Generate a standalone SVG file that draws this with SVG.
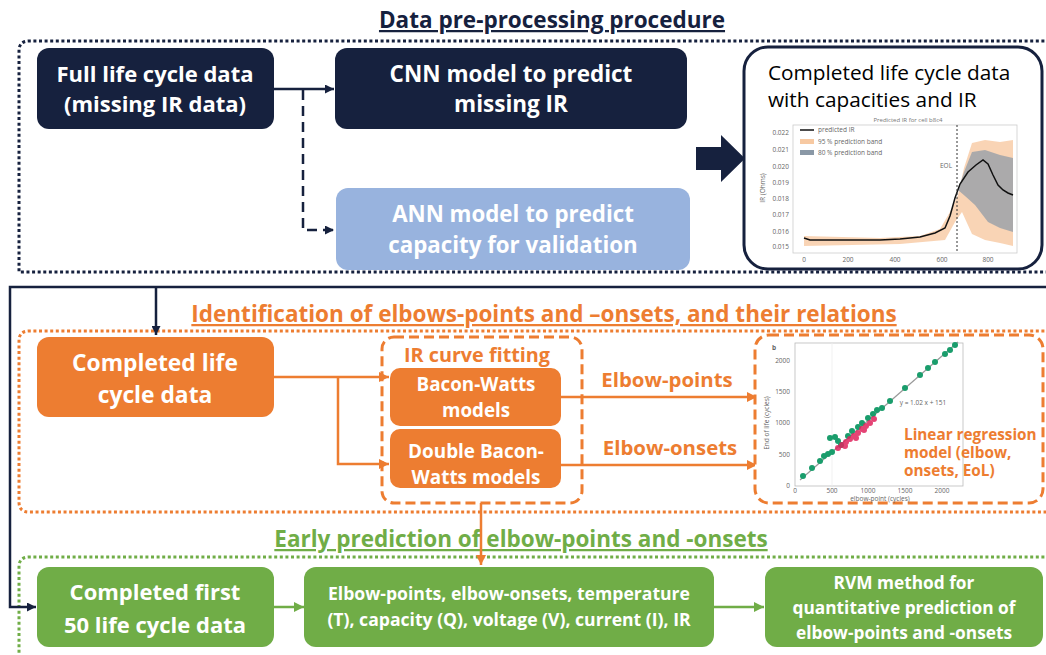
<svg xmlns="http://www.w3.org/2000/svg" width="1046" height="655" viewBox="0 0 1046 655">
<defs>
<style>
text{font-family:"Open Sans",Lato,"Liberation Sans",sans-serif}
.wb{fill:#fff;font-weight:bold;text-anchor:middle}
.hd{font-weight:bold;font-size:22.5px;text-anchor:middle;text-decoration:underline}
.ol{fill:#ed7d31;font-weight:bold;text-anchor:middle}
.navy{fill:#16213e}
.org{fill:#ed7d31}
.grn{fill:#70ad47}
.tk{font-size:6.5px;fill:#666}
.cn{fill:none;stroke-width:2.5}
.dotb{fill:none;stroke-width:3;stroke-dasharray:3 2.6}
</style>
<marker id="an" viewBox="0 0 10 10" refX="10" refY="5" markerWidth="9" markerHeight="9" markerUnits="userSpaceOnUse" orient="auto"><path d="M0,0 L10,5 L0,10 z" fill="#16213e"/></marker>
<marker id="ao" viewBox="0 0 10 10" refX="10" refY="5" markerWidth="10" markerHeight="10" markerUnits="userSpaceOnUse" orient="auto"><path d="M0,0 L10,5 L0,10 z" fill="#ed7d31"/></marker>
<marker id="ag" viewBox="0 0 10 10" refX="10" refY="5" markerWidth="10" markerHeight="10" markerUnits="userSpaceOnUse" orient="auto"><path d="M0,0 L10,5 L0,10 z" fill="#70ad47"/></marker>
</defs>
<rect width="1046" height="655" fill="#fff"/>

<g id="sections">
<path d="M1050,41 H29 Q19,41 19,51 V272 H1050" class="dotb" stroke="#16213e"/>
<text x="552" y="28" class="hd" fill="#16213e">Data pre-processing procedure</text>
<path d="M1050,331 H29 Q19,331 19,341 V502 Q19,512 29,512 H1050" class="dotb" stroke="#ed7d31"/>
<text x="544" y="322" class="hd" fill="#ed7d31">Identification of elbows-points and –onsets, and their relations</text>
<path d="M1050,557 H29 Q19,557 19,567 V660" class="dotb" stroke="#70ad47"/>
<text x="521" y="547" class="hd" fill="#70ad47">Early prediction of elbow-points and -onsets</text>
</g>

<g id="connectors">
<path d="M274,89 H334" class="cn" stroke="#16213e" stroke-width="2" marker-end="url(#an)"/>
<path d="M303,90 V230 H334" class="cn" stroke="#16213e" stroke-dasharray="10 6" marker-end="url(#an)"/>
<polygon points="696,147 721,147 721,135 745,158.5 721,182 721,170 696,170" fill="#16213e"/>
<path d="M1050,287 H10 V607 H36" class="cn" stroke="#16213e" stroke-width="3" marker-end="url(#an)"/>
<path d="M156,287 V335" class="cn" stroke="#16213e" stroke-width="3" marker-end="url(#an)"/>
<path d="M274,377 H389" class="cn" stroke="#ed7d31" marker-end="url(#ao)"/>
<path d="M338,377 V464 H389" class="cn" stroke="#ed7d31" marker-end="url(#ao)"/>
<path d="M561,397 H757" class="cn" stroke="#ed7d31" marker-end="url(#ao)"/>
<path d="M561,465 H757" class="cn" stroke="#ed7d31" marker-end="url(#ao)"/>
<path d="M481,503 V565" class="cn" stroke="#ed7d31" marker-end="url(#ao)"/>
<path d="M274,607 H304" class="cn" stroke="#70ad47" marker-end="url(#ag)"/>
<path d="M714,607 H764" class="cn" stroke="#70ad47" marker-end="url(#ag)"/>
<text x="667" y="387" class="ol" font-size="20.4">Elbow-points</text>
<text x="670" y="455" class="ol" font-size="20.4">Elbow-onsets</text>
</g>

<g id="n-full">
<rect x="37" y="48" width="237" height="81" rx="12" class="navy"/>
<text x="155" y="82" class="wb" font-size="22">Full life cycle data</text>
<text x="155" y="112" class="wb" font-size="22">(missing IR data)</text>
</g>
<g id="n-cnn">
<rect x="335" y="48" width="352" height="81" rx="12" class="navy"/>
<text x="511" y="82" class="wb" font-size="22.5">CNN model to predict</text>
<text x="511" y="112" class="wb" font-size="22.5">missing IR</text>
</g>
<g id="n-ann">
<rect x="336" y="188" width="354" height="82" rx="12" fill="#98b3de"/>
<text x="513" y="222" class="wb" font-size="22.3">ANN model to predict</text>
<text x="513" y="253" class="wb" font-size="22.3">capacity for validation</text>
</g>

<g id="n-completed-ir">
<rect x="744" y="47" width="298" height="222" rx="24" fill="#fff" stroke="#16213e" stroke-width="3"/>
<text x="768" y="80" font-size="20.8" fill="#000">Completed life cycle data</text>
<text x="768" y="107" font-size="20.8" fill="#000">with capacities and IR</text>
<text x="908" y="122" font-size="6" fill="#777" text-anchor="middle">Predicted IR for cell b8c4</text>
<rect x="793" y="125" width="224" height="128" fill="#fff" stroke="#ccc" stroke-width="0.8"/>
<polygon points="804,236 880,238 920,236 940,229 950,212 958,195 964,168 972,143 985,140 1000,142 1013,140 1013,246 1000,243 985,240 972,234 962,212 955,222 945,240 900,244 804,246" fill="#f7c9a2" opacity="0.8"/>
<polygon points="958,190 964,172 972,152 985,150 1000,155 1013,158 1013,232 1000,228 988,222 975,205 965,196" fill="#8a98a6" opacity="0.7"/>
<polyline points="804,238 810,240 850,240 880,240 900,239 920,237 935,233 945,228 950,216 955,198 960,184 968,172 976,165 983,160 988,164 993,175 998,185 1003,190 1008,193 1013,195" fill="none" stroke="#111" stroke-width="1.5"/>
<line x1="957" y1="125" x2="957" y2="253" stroke="#333" stroke-width="1" stroke-dasharray="2 2"/>
<text x="940" y="168" class="tk">EOL</text>
<line x1="800" y1="130" x2="814" y2="130" stroke="#111" stroke-width="1.5"/>
<rect x="800" y="139" width="14" height="5" fill="#f7c9a2"/>
<rect x="800" y="150" width="14" height="5" fill="#8a98a6"/>
<text x="818" y="132" class="tk">predicted IR</text>
<text x="818" y="144" class="tk">95 % prediction band</text>
<text x="818" y="155" class="tk">80 % prediction band</text>
<g class="tk" text-anchor="end">
<text x="789" y="135">0.022</text><text x="789" y="152">0.021</text><text x="789" y="169">0.020</text><text x="789" y="185">0.019</text><text x="789" y="201">0.018</text><text x="789" y="217">0.017</text><text x="789" y="234">0.016</text><text x="789" y="249">0.015</text>
</g>
<g class="tk" text-anchor="middle">
<text x="804" y="262">0</text><text x="848" y="262">200</text><text x="895" y="262">400</text><text x="942" y="262">600</text><text x="988" y="262">800</text>
</g>
<text x="0" y="0" class="tk" text-anchor="middle" transform="translate(765,188) rotate(-90)">IR (Ohms)</text>
</g>

<g id="n-completed">
<rect x="37" y="337" width="237" height="80" rx="12" class="org"/>
<text x="155" y="371" class="wb" font-size="22.8">Completed life</text>
<text x="155" y="403" class="wb" font-size="22.8">cycle data</text>
</g>

<g id="n-fitting">
<rect x="382" y="337" width="200" height="166" rx="12" fill="none" stroke="#ed7d31" stroke-width="3" stroke-dasharray="10 5"/>
<text x="477" y="362" class="ol" font-size="19.8">IR curve fitting</text>
</g>
<g id="n-bw">
<rect x="390" y="368" width="171" height="58" rx="10" class="org"/>
<text x="476" y="391" class="wb" font-size="18.8">Bacon-Watts</text>
<text x="476" y="417" class="wb" font-size="18.8">models</text>
</g>
<g id="n-dbw">
<rect x="390" y="429" width="171" height="59" rx="10" class="org"/>
<text x="476" y="458" class="wb" font-size="18.9">Double Bacon-</text>
<text x="476" y="484" class="wb" font-size="18.9">Watts models</text>
</g>

<g id="n-regression">
<rect x="755" y="335" width="288" height="168" rx="14" fill="#fff" stroke="#ed7d31" stroke-width="3" stroke-dasharray="10 5"/>
<rect x="795" y="343" width="168" height="143" fill="#fff" stroke="#bbb" stroke-width="0.8"/>
<line x1="832" y1="343" x2="832" y2="486" stroke="#eee" stroke-width="0.8"/>
<line x1="800" y1="480" x2="958" y2="342" stroke="#999" stroke-width="1.2"/>
<g fill="#1a9d6c">
<circle cx="803" cy="476" r="3"/><circle cx="812" cy="468" r="3"/><circle cx="820" cy="461" r="3"/><circle cx="824" cy="456" r="3"/><circle cx="828" cy="454" r="3"/><circle cx="832" cy="452" r="3"/><circle cx="830" cy="438" r="3"/><circle cx="835" cy="437" r="3"/><circle cx="838" cy="441" r="3"/><circle cx="841" cy="445" r="3"/><circle cx="848" cy="436" r="3"/><circle cx="852" cy="431" r="3"/><circle cx="858" cy="427" r="3"/><circle cx="862" cy="423" r="3"/><circle cx="868" cy="418" r="3"/><circle cx="873" cy="414" r="3"/><circle cx="877" cy="410" r="3"/><circle cx="882" cy="408" r="3"/><circle cx="890" cy="401" r="3"/><circle cx="905" cy="388" r="3"/><circle cx="920" cy="375" r="3"/><circle cx="928" cy="368" r="3"/><circle cx="935" cy="362" r="3"/><circle cx="945" cy="354" r="3"/><circle cx="950" cy="350" r="3"/><circle cx="955" cy="345" r="3"/>
</g>
<g fill="#e0245e" opacity="0.85">
<circle cx="838" cy="448" r="3"/><circle cx="842" cy="445" r="3"/><circle cx="846" cy="442" r="3"/><circle cx="850" cy="439" r="3"/><circle cx="854" cy="436" r="3"/><circle cx="858" cy="433" r="3"/><circle cx="862" cy="429" r="3"/><circle cx="866" cy="426" r="3"/><circle cx="870" cy="423" r="3"/><circle cx="874" cy="419" r="3"/><circle cx="845" cy="446" r="3"/><circle cx="856" cy="438" r="3"/><circle cx="864" cy="430" r="3"/>
</g>
<text x="772" y="350" class="tk" font-weight="bold">b</text>
<text x="923" y="405" class="tk" text-anchor="middle">y = 1.02 x + 151</text>
<g class="tk" text-anchor="end">
<text x="790" y="363">2000</text><text x="790" y="394">1500</text><text x="790" y="425">1000</text><text x="790" y="457">500</text><text x="790" y="488">0</text>
</g>
<g class="tk" text-anchor="middle">
<text x="795" y="493">0</text><text x="832" y="493">500</text><text x="868" y="493">1000</text><text x="905" y="493">1500</text><text x="942" y="493">2000</text>
</g>
<text x="880" y="501" class="tk" text-anchor="middle">elbow-point (cycles)</text>
<text x="0" y="0" class="tk" text-anchor="middle" transform="translate(769,423) rotate(-90)">End of life (cycles)</text>
<text x="904" y="440" fill="#ed7d31" font-weight="bold" font-size="15.3">Linear regression</text>
<text x="904" y="458" fill="#ed7d31" font-weight="bold" font-size="15.3">model (elbow,</text>
<text x="904" y="476" fill="#ed7d31" font-weight="bold" font-size="15.3">onsets, EoL)</text>
</g>

<g id="n-first50">
<rect x="37" y="567" width="237" height="80" rx="12" class="grn"/>
<text x="155" y="600" class="wb" font-size="22">Completed first</text>
<text x="155" y="633" class="wb" font-size="22">50 life cycle data</text>
</g>
<g id="n-features">
<rect x="304" y="567" width="410" height="80" rx="12" class="grn"/>
<text x="509" y="600" class="wb" font-size="17.6">Elbow-points, elbow-onsets, temperature</text>
<text x="509" y="626" class="wb" font-size="17.6">(T), capacity (Q), voltage (V), current (I), IR</text>
</g>
<g id="n-rvm">
<rect x="765" y="567" width="278" height="80" rx="12" class="grn"/>
<text x="904" y="589" class="wb" font-size="17.3">RVM method for</text>
<text x="904" y="614" class="wb" font-size="17.3">quantitative prediction of</text>
<text x="904" y="639" class="wb" font-size="17.3">elbow-points and -onsets</text>
</g>
</svg>
